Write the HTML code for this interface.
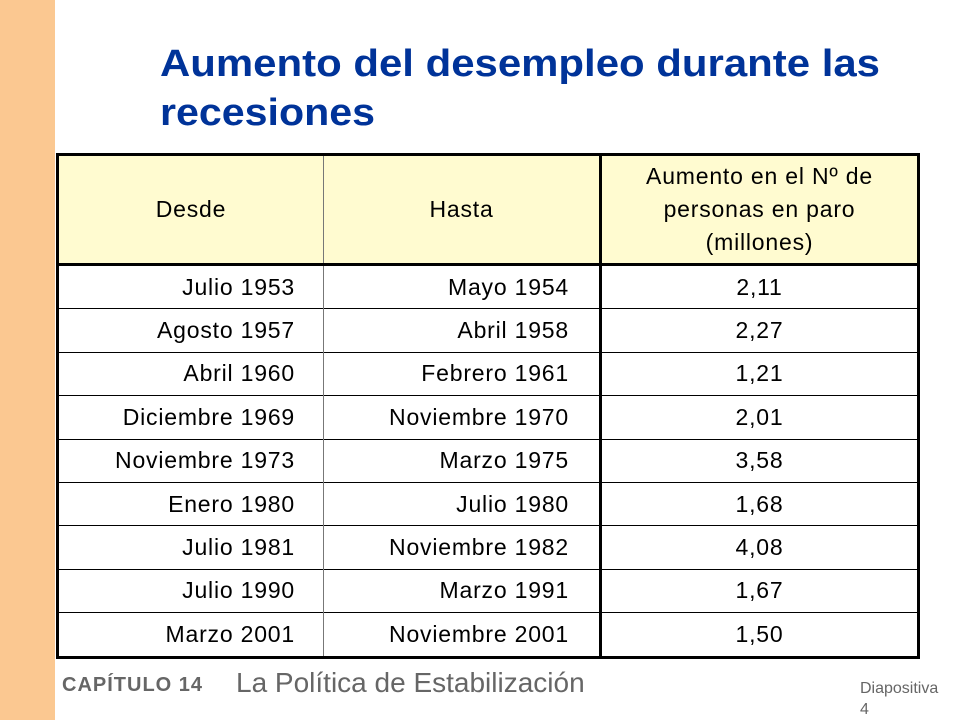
<!DOCTYPE html>
<html><head><meta charset="utf-8"><style>
body{margin:0;width:960px;height:720px;background:#fff;position:relative;overflow:hidden;font-family:"Liberation Sans",Arial,sans-serif}
.side{position:absolute;left:0;top:0;width:55px;height:720px;background:#FBC891}
table{position:absolute;left:56px;top:153px;width:864px;border-collapse:collapse;border:3px solid #000;font-size:23px;letter-spacing:0.8px;color:#000}
td,th{padding:0;font-weight:normal}
th{background:#FFFBD0;height:107px;border-bottom:3px solid #000;line-height:33px}
td{height:42.4px;border-top:1px solid #000}
.c1{width:266px;text-align:right;padding-right:28px;box-sizing:border-box;border-right:1px solid #777}
.c2{width:277px;text-align:right;padding-right:30px;box-sizing:border-box;border-right:3px solid #000}
th.c1,th.c2{text-align:center;padding:0}
.c3{text-align:center}
.foot{position:absolute;color:#666;white-space:nowrap}
</style></head><body>
<div class="side"></div>
<svg style="position:absolute;left:0;top:0" width="960" height="140">
<text x="160" y="76" textLength="720" lengthAdjust="spacingAndGlyphs" font-family="Liberation Sans" font-weight="bold" font-size="38" fill="#003399">Aumento del desempleo durante las</text>
<text x="160" y="125" textLength="215" lengthAdjust="spacingAndGlyphs" font-family="Liberation Sans" font-weight="bold" font-size="38" fill="#003399">recesiones</text>
</svg>
<table>
<tr><th class="c1">Desde</th><th class="c2">Hasta</th><th class="c3">Aumento en el Nº de<br>personas en paro<br>(millones)</th></tr>
<tr><td class="c1">Julio 1953</td><td class="c2">Mayo 1954</td><td class="c3">2,11</td></tr>
<tr><td class="c1">Agosto 1957</td><td class="c2">Abril 1958</td><td class="c3">2,27</td></tr>
<tr><td class="c1">Abril 1960</td><td class="c2">Febrero 1961</td><td class="c3">1,21</td></tr>
<tr><td class="c1">Diciembre 1969</td><td class="c2">Noviembre 1970</td><td class="c3">2,01</td></tr>
<tr><td class="c1">Noviembre 1973</td><td class="c2">Marzo 1975</td><td class="c3">3,58</td></tr>
<tr><td class="c1">Enero 1980</td><td class="c2">Julio 1980</td><td class="c3">1,68</td></tr>
<tr><td class="c1">Julio 1981</td><td class="c2">Noviembre 1982</td><td class="c3">4,08</td></tr>
<tr><td class="c1">Julio 1990</td><td class="c2">Marzo 1991</td><td class="c3">1,67</td></tr>
<tr><td class="c1">Marzo 2001</td><td class="c2">Noviembre 2001</td><td class="c3">1,50</td></tr>
</table>
<div class="foot" style="left:62px;top:674px;font-size:20px;font-weight:bold;letter-spacing:1px">CAPÍTULO 14</div>
<div class="foot" style="left:236px;top:667px;font-size:28px">La Política de Estabilización</div>
<div class="foot" style="left:860px;top:678px;font-size:16px;line-height:21px">Diapositiva<br>4</div>
</body></html>
